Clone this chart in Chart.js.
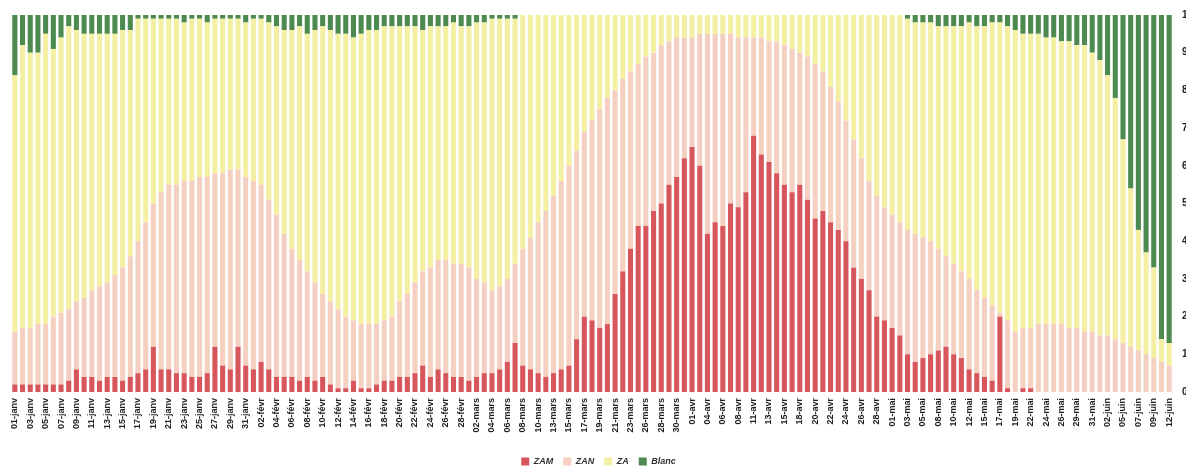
<!DOCTYPE html>
<html>
<head>
<meta charset="utf-8">
<script src="https://cdn.jsdelivr.net/npm/chart.js@4"></script>
<style>
  html, body { margin: 0; padding: 0; background: #fff; overflow: hidden; }
</style>
</head>
<body>
<canvas id="chart" width="1186" height="476"></canvas>
<script>
// Répartition quotidienne (%) - 4 séries empilées à 100 %
const jours = [
  '01-janv','02-janv','03-janv','04-janv','05-janv','06-janv','07-janv','08-janv','09-janv','10-janv',
  '11-janv','12-janv','13-janv','14-janv','15-janv','16-janv','17-janv','18-janv','19-janv','20-janv',
  '21-janv','22-janv','23-janv','24-janv','25-janv','26-janv','27-janv','28-janv','29-janv','30-janv',
  '31-janv','01-févr','02-févr','03-févr','04-févr','05-févr','06-févr','07-févr','08-févr','09-févr',
  '10-févr','11-févr','12-févr','13-févr','14-févr','15-févr','16-févr','17-févr','18-févr','19-févr',
  '20-févr','21-févr','22-févr','23-févr','24-févr','25-févr','26-févr','27-févr','28-févr','01-mars',
  '02-mars','03-mars','04-mars','05-mars','06-mars','07-mars','08-mars','09-mars','10-mars','11-mars',
  '13-mars','14-mars','15-mars','16-mars','17-mars','18-mars','19-mars','20-mars','21-mars','22-mars',
  '23-mars','25-mars','26-mars','27-mars','28-mars','29-mars','30-mars','31-mars','01-avr','03-avr',
  '04-avr','05-avr','06-avr','07-avr','08-avr','10-avr','11-avr','12-avr','13-avr','14-avr',
  '15-avr','17-avr','18-avr','19-avr','20-avr','21-avr','22-avr','23-avr','24-avr','25-avr',
  '26-avr','27-avr','28-avr','30-avr','01-mai','02-mai','03-mai','04-mai','05-mai','07-mai',
  '08-mai','09-mai','10-mai','11-mai','12-mai','14-mai','15-mai','16-mai','17-mai','18-mai',
  '19-mai','21-mai','22-mai','23-mai','24-mai','25-mai','26-mai','28-mai','29-mai','30-mai',
  '31-mai','01-juin','02-juin','04-juin','05-juin','06-juin','07-juin','08-juin','09-juin','11-juin',
  '12-juin'
];

const zam = [
  2,2,2,2,2,2,2,3,6,4,  4,3,4,4,3,4,5,6,12,6,  6,5,5,4,4,5,12,7,6,12,
  7,6,8,6,4,4,4,3,4,3,  4,2,1,1,3,1,1,2,3,3,  4,4,5,7,4,6,5,4,4,3,
  4,5,5,6,8,13,7,6,5,4,  5,6,7,14,20,19,17,18,26,32,  38,44,44,48,50,55,57,62,65,60,
  42,45,44,50,49,53,68,63,61,58,  55,53,55,51,46,48,45,43,40,33,  30,27,20,19,17,15,10,8,9,10,
  11,12,10,9,6,5,4,3,20,1,  0,1,1,0,0,0,0,0,0,0,  0,0,0,0,0,0,0,0,0,0,0
];
const zan = [
  14,15,15,16,16,18,19,19,18,21,  23,25,25,27,30,32,35,39,38,47,  49,50,51,52,53,52,46,51,53,47,
  50,50,47,45,43,38,34,32,28,26,  22,22,21,19,16,17,17,16,16,17,  20,22,24,25,29,29,30,30,30,30,
  26,24,22,22,22,21,31,35,40,44,  47,50,53,50,49,53,58,60,54,51,  47,43,45,42,42,38,37,32,29,35,
  53,50,51,45,45,41,26,31,32,35,  37,38,35,38,41,37,36,34,32,34,  32,29,32,30,30,30,33,34,32,30,
  27,24,24,23,24,22,21,20,1,18,  16,16,16,18,18,18,18,17,17,16,  16,15,15,14,13,12,11,10,9,8,7
];
const za = [
  68,75,73,72,77,71,73,75,72,70,  68,67,66,64,63,60,59,54,49,46,  44,44,42,43,42,41,41,41,40,40,
  41,43,44,47,50,54,58,62,63,67,  71,72,73,75,75,77,78,78,78,77,  73,71,68,64,64,62,62,64,63,64,
  68,69,72,71,69,65,62,59,55,52,  48,44,40,36,31,28,25,22,20,17,  15,13,11,10,8,7,6,6,6,5,
  5,5,5,5,6,6,6,6,7,7,  8,9,10,11,13,15,19,23,28,33,  38,44,48,51,53,55,56,56,57,58,
  59,61,63,65,68,70,72,75,77,78,  80,78,78,77,76,76,75,76,75,76,  74,73,69,64,54,42,32,27,24,6,6
];
const blanc = [
  16,8,10,10,5,9,6,3,4,5,  5,5,5,5,4,4,1,1,1,1,  1,1,2,1,1,2,1,1,1,1,
  2,1,1,2,3,4,4,3,5,4,  3,4,5,5,6,5,4,4,3,3,  3,3,3,4,3,3,3,2,3,3,
  2,2,1,1,1,1,0,0,0,0,  0,0,0,0,0,0,0,0,0,0,  0,0,0,0,0,0,0,0,0,0,
  0,0,0,0,0,0,0,0,0,0,  0,0,0,0,0,0,0,0,0,0,  0,0,0,0,0,0,1,2,2,2,
  3,3,3,3,2,3,3,2,2,3,  4,5,5,5,6,6,7,7,8,8,  10,12,16,22,33,46,57,63,67,86,87
];

const series = [
  { label: 'ZAM', data: zam, color: '#d6565b' },
  { label: 'ZAN', data: zan, color: '#f5d0c2' },
  { label: 'ZA', data: za, color: '#f4efa2' },
  { label: 'Blanc', data: blanc, color: '#4d8a4f' }
];

new Chart(document.getElementById('chart'), {
  type: 'bar',
  data: {
    labels: jours,
    datasets: series.map(s => ({
      label: s.label,
      data: s.data,
      backgroundColor: s.color,
      borderWidth: 0,
      categoryPercentage: 1,
      barPercentage: 0.66
    }))
  },
  options: {
    responsive: false,
    animation: false,
    layout: { padding: { left: 11, top: 13, right: 0, bottom: 0 } },
    plugins: {
      legend: {
        position: 'bottom',
        labels: {
          boxWidth: 8,
          boxHeight: 8,
          padding: 10,
          color: '#333',
          font: { family: 'Liberation Sans', size: 9, weight: 'bold', style: 'italic' }
        }
      },
      tooltip: { enabled: false }
    },
    scales: {
      x: {
        stacked: true,
        grid: { display: false, drawTicks: false },
        border: { display: false },
        afterFit: s => { s.height = 55; },
        ticks: {
          autoSkip: false,
          minRotation: 90,
          maxRotation: 90,
          padding: 6,
          color: '#222',
          font: { family: 'Liberation Sans', size: 9, weight: 'bold' },
          callback: function (v, i) { return i % 2 === 0 ? this.getLabelForValue(v) : ''; }
        }
      },
      y: {
        stacked: true,
        position: 'right',
        min: 0,
        max: 100,
        grid: { display: false, drawTicks: false },
        border: { display: false },
        afterFit: s => { s.width = 13; },
        ticks: {
          stepSize: 10,
          padding: 9,
          color: '#222',
          font: { family: 'Liberation Sans', size: 10, weight: 'bold' },
          callback: v => v + '%'
        }
      }
    }
  }
});
</script>
</body>
</html>
